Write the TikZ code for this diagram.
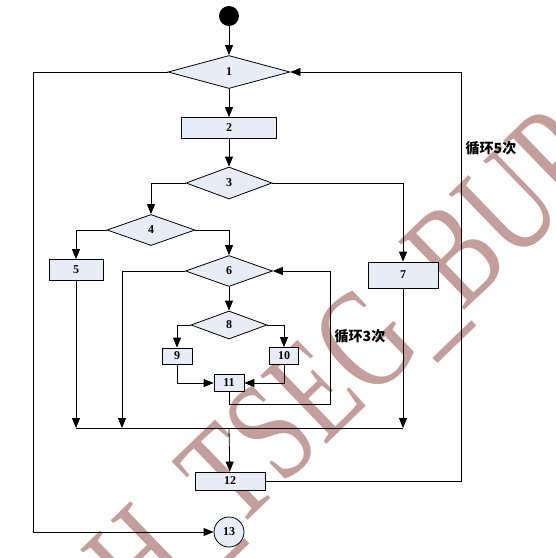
\documentclass[tikz,border=0pt]{standalone}
\usepackage{fontspec}
\setmainfont{Liberation Serif}
\newfontfamily\cjk{Noto Sans CJK SC}
\usetikzlibrary{arrows.meta,shapes.geometric}
\definecolor{boxfill}{RGB}{232,236,246}
\definecolor{wmark}{RGB}{196,158,154}

\begin{document}
\begin{tikzpicture}[x=1pt,y=-1pt,line width=0.8pt,
    >={Triangle[length=10pt,width=8pt]},
    box/.style={draw,fill=boxfill,font=\bfseries\fontsize{12}{12}\selectfont,inner sep=0pt},
    dec/.style={draw,diamond,fill=boxfill,font=\bfseries\fontsize{12}{12}\selectfont,inner sep=0pt},
    note/.style={font=\cjk\bfseries\fontsize{14}{14}\selectfont}]
    \useasboundingbox (0,0) rectangle (556,558);
    % watermark
    \node[rotate=44,yscale=1.38,anchor=base,text=wmark,font=\fontsize{105}{105}\selectfont] (wm) at (356,416) {SH\_TSEG\_BUP};
    % nodes
    \node[circle,fill=black,minimum size=20pt,inner sep=0pt] (start) at (229,16) {};
    \node[dec,minimum width=122pt,minimum height=33pt] (d1) at (229,72) {1};
    \node[box,minimum width=95pt,minimum height=21pt] (b2) at (229,128) {2};
    \node[dec,minimum width=86pt,minimum height=32pt] (d3) at (229,183) {3};
    \node[dec,minimum width=88pt,minimum height=31pt] (d4) at (151,230) {4};
    \node[box,minimum width=54pt,minimum height=21pt] (b5) at (76,270) {5};
    \node[dec,minimum width=87pt,minimum height=31pt] (d6) at (229,271) {6};
    \node[box,minimum width=70pt,minimum height=26pt] (b7) at (403,275) {7};
    \node[dec,minimum width=76pt,minimum height=28pt] (d8) at (229,325) {8};
    \node[box,minimum width=30pt,minimum height=16pt] (b9) at (177,356) {9};
    \node[box,minimum width=29pt,minimum height=17pt] (b10) at (284,356) {10};
    \node[box,minimum width=30pt,minimum height=17pt] (b11) at (229,383) {11};
    \node[box,minimum width=70pt,minimum height=18pt] (b12) at (230,481) {12};
    \node[circle,draw,fill=boxfill,font=\bfseries\fontsize{12}{12}\selectfont,minimum size=30pt,inner sep=0pt] (c13) at (229,532) {13};
    \node[note] (loop5txt) at (491,148) {循环5次};
    \node[note] (loop3txt) at (360,336) {循环3次};
    % corners
    \coordinate (loop3) at (330,404);
    \coordinate (loop5) at (461,72);
    \coordinate (exitL) at (33,72);
    \coordinate (mL) at (76,428);
    \coordinate (m6) at (122,428);
    \coordinate (mC) at (229,428);
    \coordinate (mR) at (403,428);
    % connectors
    \draw[->] (start) -- (d1);
    \draw[->] (d1) -- (b2);
    \draw[->] (b2) -- (d3);
    \draw[->] (d3.west) -| (d4);
    \draw[->] (d4.west) -| (b5);
    \draw[->] (d4.east) -| (d6);
    \draw[->] (d3.east) -| (b7);
    \draw[->] (d6) -- (d8);
    \draw[->] (d8.west) -| (b9);
    \draw[->] (d8.east) -| (b10);
    \draw[->] (b9) |- (b11);
    \draw[->] (b10) |- (b11);
    \draw[->] (b11.south) |- (loop3) |- (d6.east);
    \draw[->] (b5.south) -- (mL);
    \draw[->] (d6.west) -| (m6);
    \draw[->] (b7.south) -- (mR);
    \draw (mL) -- (mR);
    \draw[->] (mC) -- (b12);
    \draw[->] (b12.east) -| (loop5) -- (d1.east);
    \draw[->] (d1.west) -- (exitL) |- (c13);
\end{tikzpicture}
\end{document}
